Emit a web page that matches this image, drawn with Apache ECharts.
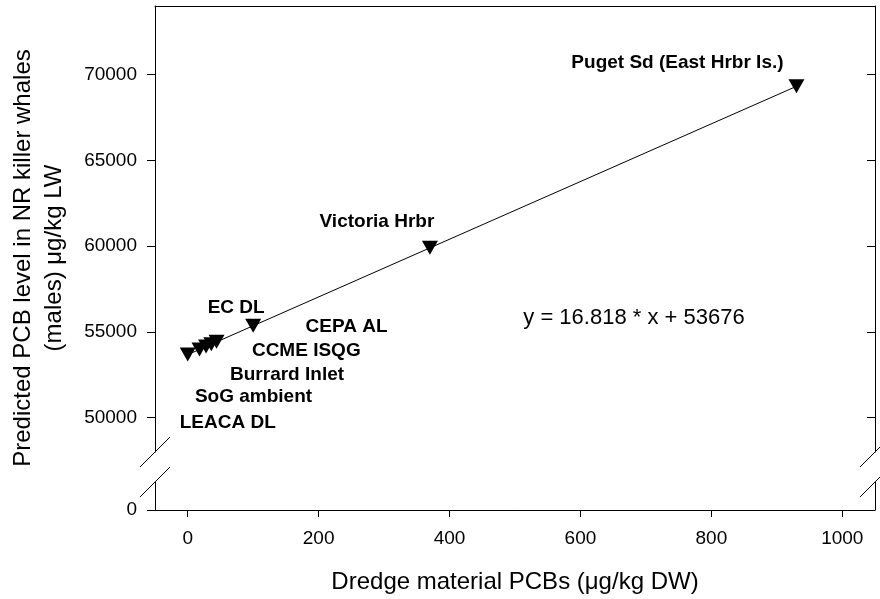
<!DOCTYPE html>
<html>
<head>
<meta charset="utf-8">
<script src="https://cdn.jsdelivr.net/npm/echarts@6/dist/echarts.min.js"></script>
<style>
  html, body { margin: 0; padding: 0; background: #fff; }
  #chart { width: 880px; height: 599px; }
</style>
</head>
<body>
<div id="chart"></div>
<script>
// Sites and values
const siteNames = ['LEACA DL', 'SoG ambient', 'Burrard Inlet', 'CCME ISQG', 'CEPA AL', 'EC DL', 'Victoria Hrbr', 'Puget Sd (East Hrbr Is.)'];
const dredgePCB = [0, 18, 28, 36, 44, 100, 370, 930];
const predictedPCB = [53680, 53980, 54150, 54280, 54420, 55360, 59900, 69320];

// Fitted regression line
const fitSlope = 16.818;
const fitIntercept = 53676;

// Tick labels
const xTicks = [0, 200, 400, 600, 800, 1000];
const yTicksUpper = [50000, 55000, 60000, 65000, 70000];
const yTicksLower = [0];

// Axis ranges (upper and lower pieces of the broken y axis)
const xRange = [-50, 1050];
const yUpperRange = [48000, 74000];
const yLowerRange = [0, 1600];

// Label placement relative to each marker (px)
const labelOffsets = [[40, 68], [54, 47], [81, 28], [95, 6], [130, -15], [-17, -18], [-53, -26], [-119, -24]];

const FONT = 'Liberation Sans, Arial, Helvetica, sans-serif';
const INK = '#000';
const plain = v => String(v);

const chart = echarts.init(document.getElementById('chart'), null, { renderer: 'canvas' });

const gridUpper = { left: 155, right: 5, top: 6, bottom: 147, outerBoundsMode: 'none' };
const gridLower = { left: 155, right: 5, top: 482, bottom: 89, outerBoundsMode: 'none' };

const lineOnly = { show: true, onZero: false, lineStyle: { color: INK, width: 1 } };

const points = dredgePCB.map((x, i) => ({
  name: siteNames[i],
  value: [x, predictedPCB[i]],
  label: { offset: labelOffsets[i] }
}));

const fitLine = [dredgePCB[0], dredgePCB[dredgePCB.length - 1]].map(x => [x, fitSlope * x + fitIntercept]);

chart.setOption({
  animation: false,
  backgroundColor: '#fff',
  grid: [gridUpper, gridLower],
  xAxis: [
    {
      type: 'value', gridIndex: 0, position: 'top',
      min: xRange[0], max: xRange[1],
      axisLine: lineOnly, axisTick: { show: false }, axisLabel: { show: false },
      splitLine: { show: false }
    },
    {
      type: 'value', gridIndex: 1, position: 'bottom',
      min: xRange[0], max: xRange[1],
      axisLine: lineOnly,
      axisTick: { show: true, inside: false, length: 7, customValues: xTicks, lineStyle: { color: INK, width: 1 } },
      axisLabel: { show: true, customValues: xTicks, formatter: plain, margin: 19, color: INK, fontSize: 19, fontFamily: FONT },
      splitLine: { show: false },
      name: 'Dredge material PCBs (μg/kg DW)',
      nameLocation: 'middle', nameGap: 60,
      nameTextStyle: { color: INK, fontSize: 24, fontFamily: FONT }
    }
  ],
  yAxis: [
    {
      type: 'value', gridIndex: 0, position: 'left',
      min: yUpperRange[0], max: yUpperRange[1],
      axisLine: lineOnly,
      axisTick: { show: true, inside: false, length: 8, customValues: yTicksUpper, lineStyle: { color: INK, width: 1 } },
      axisLabel: { show: true, customValues: yTicksUpper, formatter: plain, margin: 18, color: INK, fontSize: 19, fontFamily: FONT },
      splitLine: { show: false }
    },
    {
      type: 'value', gridIndex: 0, position: 'right',
      min: yUpperRange[0], max: yUpperRange[1],
      axisLine: lineOnly,
      axisTick: { show: true, inside: true, length: 8, customValues: yTicksUpper, lineStyle: { color: INK, width: 1 } },
      axisLabel: { show: false },
      splitLine: { show: false }
    },
    {
      type: 'value', gridIndex: 1, position: 'left',
      min: yLowerRange[0], max: yLowerRange[1],
      axisLine: lineOnly,
      axisTick: { show: true, inside: false, length: 8, customValues: yTicksLower, lineStyle: { color: INK, width: 1 } },
      axisLabel: { show: true, customValues: yTicksLower, formatter: plain, margin: 18, color: INK, fontSize: 19, fontFamily: FONT },
      splitLine: { show: false }
    },
    {
      type: 'value', gridIndex: 1, position: 'right',
      min: yLowerRange[0], max: yLowerRange[1],
      axisLine: lineOnly,
      axisTick: { show: false }, axisLabel: { show: false },
      splitLine: { show: false }
    }
  ],
  series: [
    {
      type: 'line', xAxisIndex: 0, yAxisIndex: 0,
      data: fitLine, symbol: 'none', silent: true,
      lineStyle: { color: INK, width: 1 }, z: 2
    },
    {
      type: 'scatter', xAxisIndex: 0, yAxisIndex: 0,
      data: points,
      symbol: 'triangle', symbolRotate: 180, symbolSize: [16, 14],
      itemStyle: { color: INK, opacity: 1 },
      label: {
        show: true, position: 'inside',
        formatter: p => p.name,
        color: INK, fontWeight: 'bold', fontSize: 19, fontFamily: FONT,
        textBorderWidth: 0,
        align: 'center', verticalAlign: 'middle'
      },
      z: 3
    }
  ]
});

// Break marks on both vertical axes, plus the axis title and regression equation
const upperL = chart.convertToPixel({ xAxisIndex: 0, yAxisIndex: 0 }, [xRange[0], yUpperRange[0]]);
const upperR = chart.convertToPixel({ xAxisIndex: 0, yAxisIndex: 0 }, [xRange[1], yUpperRange[0]]);
const lowerL = chart.convertToPixel({ xAxisIndex: 1, yAxisIndex: 2 }, [xRange[0], yLowerRange[1]]);
const lowerR = chart.convertToPixel({ xAxisIndex: 1, yAxisIndex: 2 }, [xRange[1], yLowerRange[1]]);
const topPx = chart.convertToPixel({ xAxisIndex: 0, yAxisIndex: 0 }, [xRange[0], yUpperRange[1]]);
const bottomPx = chart.convertToPixel({ xAxisIndex: 1, yAxisIndex: 2 }, [xRange[0], yLowerRange[0]]);

const slash = (c) => ({
  type: 'line',
  shape: { x1: c[0] - 15, y1: c[1] + 15, x2: c[0] + 15, y2: c[1] - 15 },
  style: { stroke: INK, lineWidth: 1 },
  silent: true, z: 10
});

chart.setOption({
  graphic: [
    slash(upperL), slash(lowerL), slash(upperR), slash(lowerR),
    {
      type: 'text',
      x: 39, y: (topPx[1] + bottomPx[1]) / 2,
      rotation: Math.PI / 2,
      style: {
        text: 'Predicted PCB level in NR killer whales\n(males) μg/kg LW',
        fill: INK, fontSize: 24, fontFamily: FONT, lineHeight: 31,
        align: 'center', verticalAlign: 'middle'
      },
      silent: true
    },
    {
      type: 'text',
      x: 634, y: 318,
      style: {
        text: 'y = ' + fitSlope + ' * x + ' + fitIntercept,
        fill: INK, fontSize: 22, fontFamily: FONT,
        align: 'center', verticalAlign: 'middle'
      },
      silent: true
    }
  ]
});
</script>
</body>
</html>
